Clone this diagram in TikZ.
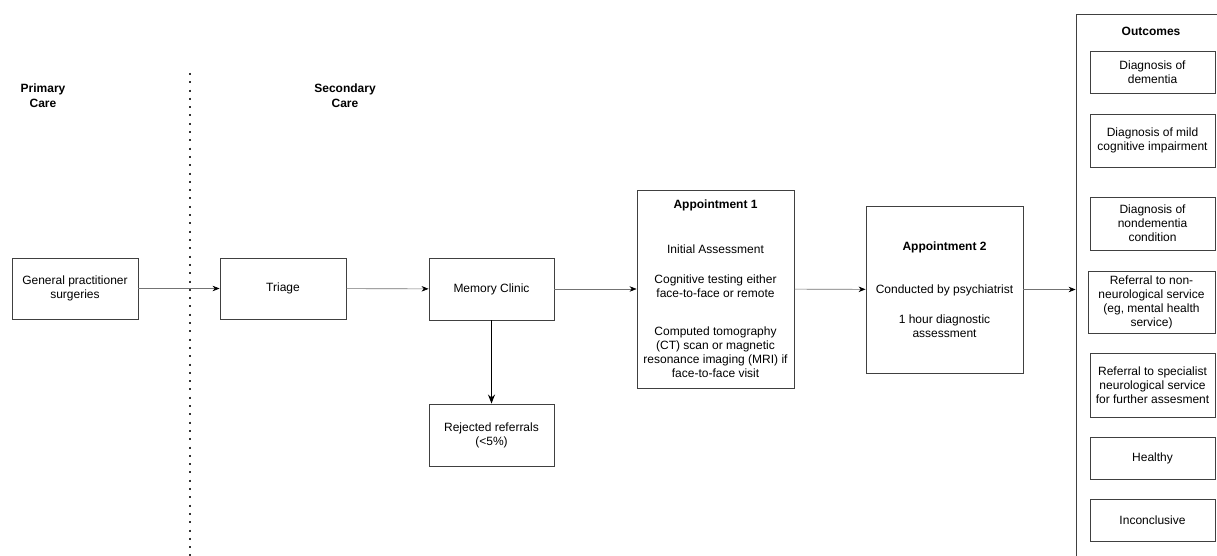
\documentclass[tikz,border=0pt]{standalone}
\usepackage{fontspec}
\setmainfont{Liberation Sans}
\usetikzlibrary{arrows.meta}
\begin{document}
\begin{tikzpicture}[x=1pt,y=-1pt,
  box/.style={draw=black!75,line width=0.9pt,align=center,inner sep=0pt,
    font=\fontsize{12}{14}\selectfont},
  conn/.style={draw=black!55,line width=0.6pt,-{Stealth[length=7pt,width=5.5pt,black]}},
  downarrow/.style={draw=black,line width=1.2pt,-{Stealth[length=9pt,width=7pt]}},
  ttl/.style={align=center,font=\fontsize{12}{15}\selectfont\bfseries},
  dotline/.style={draw=black!80,line width=2pt,dash pattern=on 2pt off 6.3pt},
]
\useasboundingbox (0,0) rectangle (1217,556);
\clip (0,0) rectangle (1217,556);
\fill[white] (0,0) rectangle (1217,556);

% section titles
\node[ttl] (primary) at (43,95.5) {Primary\\Care};
\node[ttl] (secondary) at (345,95.5) {Secondary\\Care};

% divider
\coordinate (dtop) at (190,73);
\coordinate (dbot) at (190,560);
\draw[dotline] (dtop) -- (dbot);

% main flow
\node[box,minimum width=126pt,minimum height=61pt] (gp) at (75,288.5) {General practitioner\\surgeries};
\node[box,minimum width=126pt,minimum height=61pt] (triage) at (283,288.5) {Triage};
\node[box,minimum width=125pt,minimum height=62pt] (mem) at (491.5,289) {Memory Clinic};
\node[box,minimum width=125pt,minimum height=62pt] (rej) at (491.5,435) {Rejected referrals\\(<5\%)};
\node[box,minimum width=157pt,minimum height=198pt] (app1) at (715.5,289) {\textbf{Appointment 1}\\[31pt]Initial Assessment\\[16pt]Cognitive testing either\\face-to-face or remote\\[24pt]Computed tomography\\(CT) scan or magnetic\\resonance imaging (MRI) if\\face-to-face visit};
\node[box,minimum width=157pt,minimum height=167pt] (app2) at (944.5,289.5) {\textbf{Appointment 2}\\[29pt]Conducted by psychiatrist\\[16pt]1 hour diagnostic\\assessment};

% outcomes container
\node[box,minimum width=184pt,minimum height=586pt] (outc) at (1168,307) {};
\node[ttl] (outtitle) at (1151,31) {Outcomes};
\node[box,minimum width=125pt,minimum height=42pt] (o1) at (1152.5,72) {Diagnosis of\\dementia};
\node[box,minimum width=125pt,minimum height=53pt] (o2) at (1152.5,140.5) {Diagnosis of mild\\cognitive impairment};
\node[box,minimum width=125pt,minimum height=53pt] (o3) at (1152.5,223.5) {Diagnosis of\\nondementia\\condition};
\node[box,minimum width=127pt,minimum height=62pt] (o4) at (1151.5,302) {Referral to non-\\neurological service\\(eg, mental health\\service)};
\node[box,minimum width=125pt,minimum height=64pt] (o5) at (1152.5,385) {Referral to specialist\\neurological service\\for further assesment};
\node[box,minimum width=125pt,minimum height=42pt] (o6) at (1152.5,458) {Healthy};
\node[box,minimum width=125pt,minimum height=42pt] (o7) at (1152.5,520) {Inconclusive};

% connectors
\draw[conn] (gp) -- (triage);
\draw[conn] (triage) -- (mem);
\draw[conn] (mem) -- (app1);
\draw[conn] (app1) -- (app2);
\draw[conn] (app2.east) -- (app2.east -| outc.west);
\draw[downarrow] (mem) -- (rej);
\end{tikzpicture}
\end{document}
